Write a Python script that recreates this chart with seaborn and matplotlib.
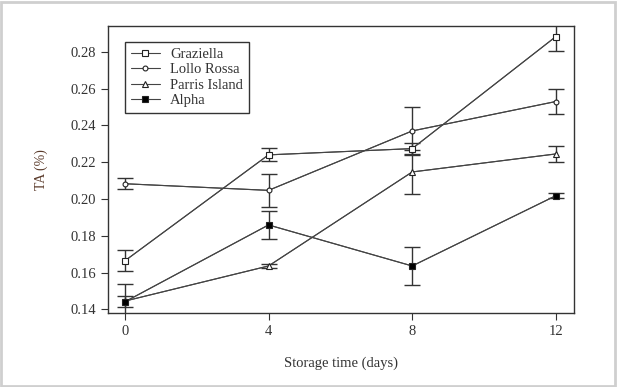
import pandas as pd
import matplotlib
matplotlib.use("Agg")
import matplotlib.pyplot as plt
import seaborn as sns

days = [0, 4, 8, 12]
cultivars = ["Graziella", "Lollo Rossa", "Parris Island", "Alpha"]

graziella = [0.1664, 0.2240, 0.2274, 0.2883]
lollo_rossa = [0.2083, 0.2047, 0.2370, 0.2530]
parris_island = [0.1445, 0.1636, 0.2147, 0.2245]
alpha = [0.1441, 0.1859, 0.1636, 0.2018]

graziella_err = [0.0058, 0.0035, 0.0030, 0.0076]
lollo_rossa_err = [0.0030, 0.0090, 0.0132, 0.0070]
parris_island_err = [0.0030, 0.0012, 0.0122, 0.0042]
alpha_err = [0.0095, 0.0077, 0.0105, 0.0015]

values = [graziella, lollo_rossa, parris_island, alpha]
errors = [graziella_err, lollo_rossa_err, parris_island_err, alpha_err]

rows = []
for name, vals, errs in zip(cultivars, values, errors):
    for d, v, e in zip(days, vals, errs):
        rows.append({"day": d, "ta": v, "err": e, "cultivar": name})
df = pd.DataFrame(rows)


def plot_ta(df):
    sns.set_style("ticks")
    plt.rcParams["font.family"] = ["Liberation Serif", "DejaVu Serif"]
    fig = plt.figure(figsize=(6.17, 3.87), dpi=100)
    ax = fig.add_axes([0.175, 0.192, 0.755, 0.742])

    line_color = "#444444"
    markers = {"Graziella": "s", "Lollo Rossa": "o", "Parris Island": "^", "Alpha": "s"}
    sizes = {"Graziella": 5, "Lollo Rossa": 3.5, "Parris Island": 5, "Alpha": 4.5}
    faces = {"Graziella": "white", "Lollo Rossa": "white", "Parris Island": "white", "Alpha": "black"}

    sns.lineplot(data=df, x="day", y="ta", hue="cultivar", style="cultivar",
                 palette=[line_color] * 4, dashes=False, markers=False,
                 linewidth=0.8, legend=False, ax=ax, zorder=2)

    for name in cultivars:
        sub = df[df["cultivar"] == name]
        ax.errorbar(sub["day"], sub["ta"], yerr=sub["err"], fmt="none",
                    ecolor="#333333", elinewidth=1.0, capsize=6, capthick=1.0, zorder=3)
        ax.plot(sub["day"], sub["ta"], linestyle="-", color=line_color, linewidth=0.8,
                marker=markers[name], markersize=sizes[name], markerfacecolor=faces[name],
                markeredgecolor="#222222", markeredgewidth=0.8, label=name, zorder=4)

    ax.set_xlim(-0.47, 12.5)
    ax.set_ylim(0.1382, 0.2943)
    ax.set_xticks(days)
    ax.set_yticks([0.14, 0.16, 0.18, 0.20, 0.22, 0.24, 0.26, 0.28])
    ax.set_yticklabels(["0.14", "0.16", "0.18", "0.20", "0.22", "0.24", "0.26", "0.28"])
    ax.tick_params(direction="out", length=5, width=0.8, colors="#333333", labelsize=10.5,
                   labelcolor="#333333")
    for s in ax.spines.values():
        s.set_color("#333333")
        s.set_linewidth(1.0)

    ax.set_xlabel("Storage time (days)", fontsize=10.5, color="#333333", labelpad=14)
    ax.set_ylabel("TA (%)", fontsize=10, color="#5a3a2a", labelpad=16)

    leg = ax.legend(loc="upper left", bbox_to_anchor=(0.036, 0.943), fontsize=10.5,
                    frameon=True, fancybox=False, edgecolor="#333333", framealpha=1,
                    handlelength=2.0, handletextpad=0.7, borderpad=0.4, labelspacing=0.15,
                    borderaxespad=0)
    leg.get_frame().set_linewidth(1.0)
    for t in leg.get_texts():
        t.set_color("#333333")

    # light grey frame around the whole figure
    border = plt.Rectangle((0.002, 0.003), 0.995, 0.993, transform=fig.transFigure,
                           fill=False, edgecolor="#cfcfcf", linewidth=2)
    fig.patches.append(border)

    fig.savefig("out.png", dpi=100)


plot_ta(df)
